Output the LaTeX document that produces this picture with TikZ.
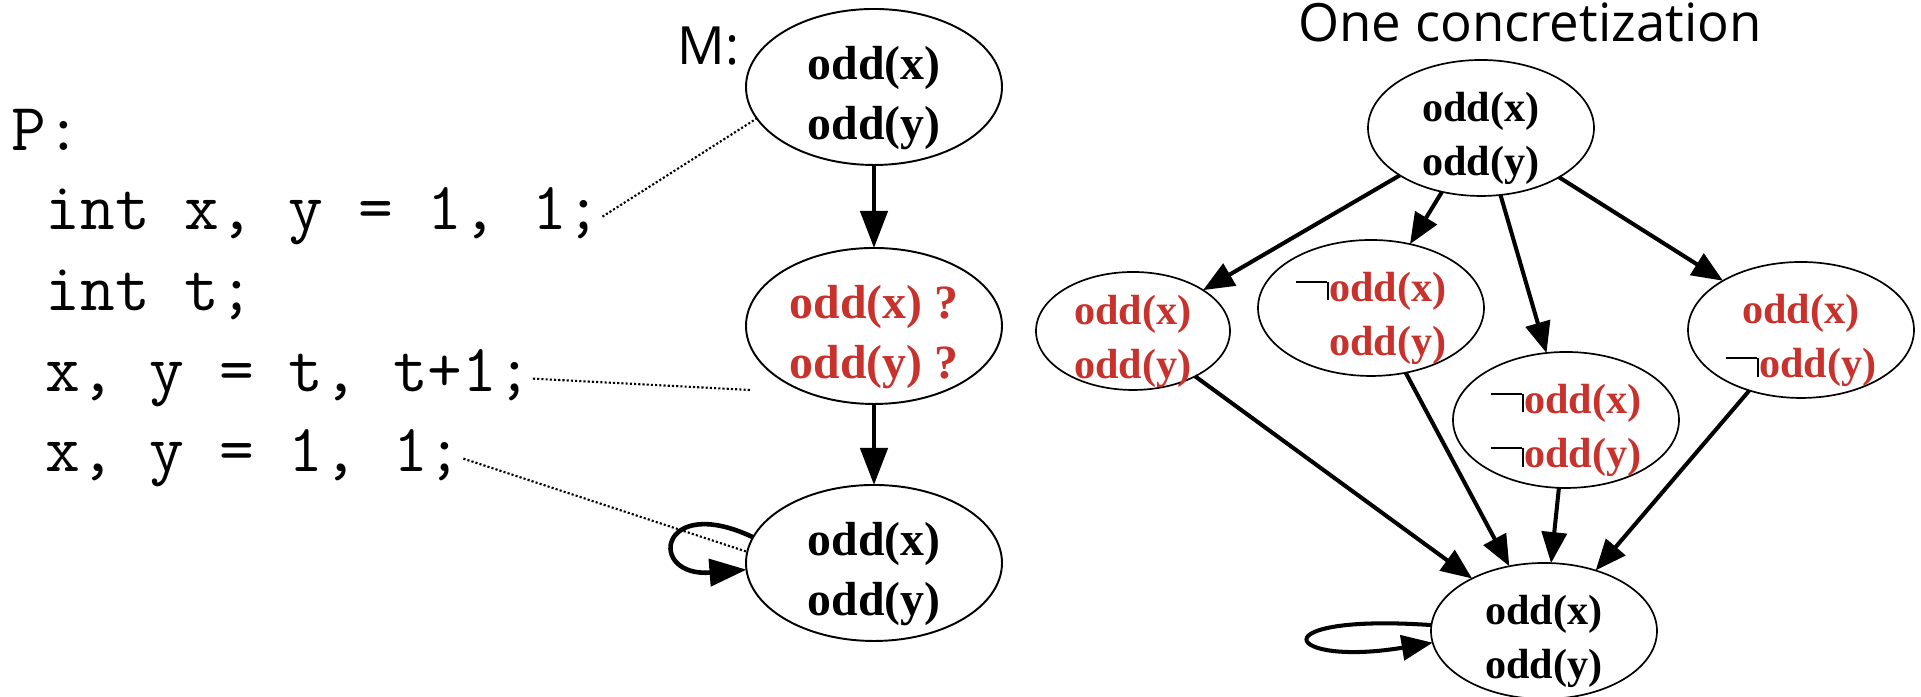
\documentclass[tikz,border=0pt]{standalone}
\usepackage{fontspec}
\setmainfont{Liberation Serif}
\newfontfamily\handfont{Open Sans}
\usetikzlibrary{arrows.meta, shapes.geometric, positioning}
\definecolor{unkred}{RGB}{200,50,45}

% thin black "not" hook in front of a predicate
\newcommand{\negsym}{{\color{black}\rule[0.95ex]{0.75em}{0.05em}\rule[0.05ex]{0.05em}{0.95ex}}}
% two predicates stacked, sitting a bit below the ellipse centre
\newcommand{\twoline}[2]{\raisebox{-0.48em}[0pt][0pt]{\begin{tabular}{@{}c@{}}#1\\#2\end{tabular}}}

\begin{document}
\begin{tikzpicture}[
    state/.style={ellipse, draw=black, line width=0.55pt, inner sep=0pt, outer sep=0pt,
                  minimum width=2.56cm, minimum height=1.56cm,
                  font=\fontsize{13.6}{17}\selectfont\bfseries},
    cstate/.style={state, line width=0.48pt, minimum width=2.26cm, minimum height=1.36cm,
                   font=\fontsize{12}{15.5}\selectfont\bfseries},
    unk/.style={text=unkred},
    code/.style={anchor=base west, inner sep=0pt, font=\fontsize{19.2}{23}\selectfont\ttfamily},
    hand/.style={inner sep=0pt, font=\fontsize{15}{18}\selectfont\handfont},
    link/.style={line width=0.6pt, dash pattern=on 0.6pt off 0.6pt},
    arrow/.style={-{Triangle[length=0.37cm, width=0.27cm]}, line width=1.3pt},
    carrow/.style={-{Triangle[length=0.31cm, width=0.25cm]}, line width=1.15pt}
]
\useasboundingbox (0,0) rectangle (19.21,6.97);

% program P
\node[code] (p) at (0.11, 5.46) {P:};
\node[code] (l1) at (0.45, 4.67) {int x, y = 1, 1;};
\node[code] (l2) at (0.45, 3.86) {int t;};
\node[code] (l3) at (0.45, 3.05) {x, y = t, t+1;};
\node[code] (l4) at (0.45, 2.25) {x, y = 1, 1;};

% abstract model M
\node[hand, anchor=base west] (mname) at (6.77, 6.32) {M:};
\node[state] (mtop) at (8.74, 6.10) {\twoline{odd(x)}{odd(y)}};
\node[state, unk] (mmid) at (8.74, 3.71) {\twoline{odd(x) ?}{odd(y) ?}};
\node[state] (mbot) at (8.74, 1.34) {\twoline{odd(x)}{odd(y)}};
\draw[arrow] (mtop) -- (mmid);
\draw[arrow] (mmid) -- (mbot);
\draw[arrow] (mbot.168) .. controls +(-0.95,0.45) and +(-1.0,-0.08) .. (mbot.183);

% statements to states
\coordinate (l3end) at (7.50, 3.07);
\draw[link] (l1.east) -- (mtop.195);
\draw[link] (l3.east) -- (l3end);
\draw[link] (l4.east) -- (mbot.175);

% concretization
\node[hand, anchor=base] (title) at (15.30, 6.55) {One concretization};
\node[cstate] (ctop) at (14.81, 5.69) {\twoline{odd(x)}{odd(y)}};
\node[cstate, unk, minimum width=1.94cm, minimum height=1.18cm] (codd) at (11.33, 3.66) {\twoline{odd(x)}{odd(y)}};
\node[cstate, unk] (cnx) at (13.71, 3.89) {\twoline{\negsym odd(x)}{\phantom{\negsym}odd(y)}};
\node[cstate, unk] (cnxy) at (15.66, 2.77) {\twoline{\negsym odd(x)}{\negsym odd(y)}};
\node[cstate, unk] (cny) at (18.01, 3.67) {\twoline{odd(x)}{\negsym odd(y)}};
\node[cstate] (cbot) at (15.44, 0.66) {\twoline{odd(x)}{odd(y)}};
\foreach \n in {codd, cnx, cnxy, cny} {
    \draw[carrow] (ctop) -- (\n);
    \draw[carrow] (\n) -- (cbot);
}
\draw[carrow] (cbot.177) .. controls +(-1.75,0.12) and +(-1.5,-0.25) .. (cbot.186);
\end{tikzpicture}
\end{document}
